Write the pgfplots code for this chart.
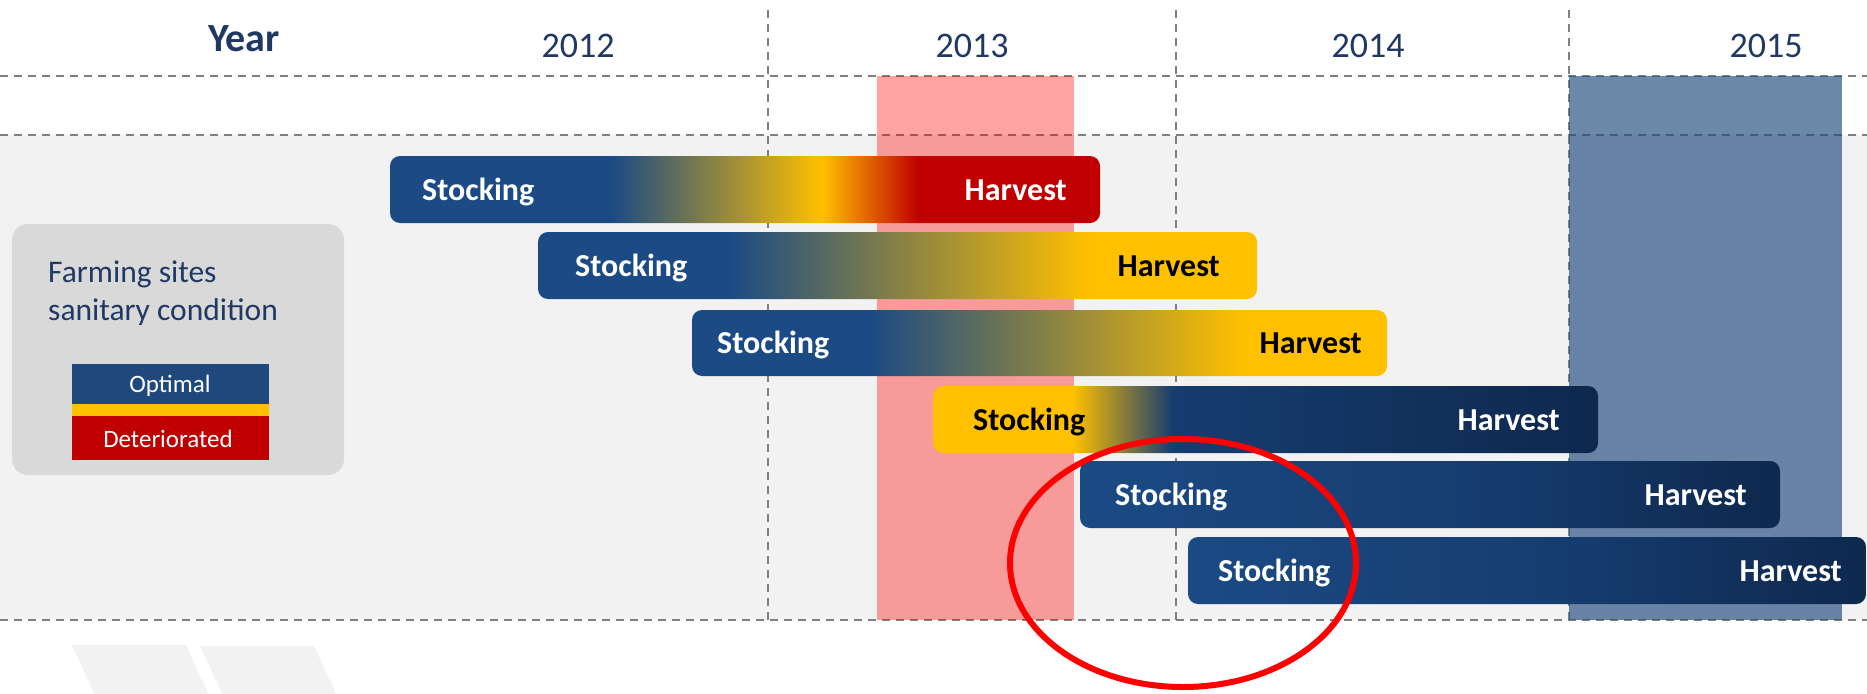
\documentclass[border=0pt]{standalone}
\usepackage{pgfplots}
\pgfplotsset{compat=1.18}
\usepackage{fontspec}
\setmainfont{Carlito}
\definecolor{cblue}{RGB}{27,74,132}
\definecolor{cmid}{RGB}{22,61,112}
\definecolor{cnavy}{RGB}{14,40,78}
\definecolor{cyellow}{RGB}{255,192,0}
\definecolor{cred}{RGB}{192,0,0}
\definecolor{ctitle}{RGB}{31,56,100}
\definecolor{cgrid}{RGB}{128,128,128}
\definecolor{cbg}{RGB}{242,242,242}
\definecolor{cbox}{RGB}{217,217,217}
\definecolor{clegblue}{RGB}{31,73,125}
\pgfdeclarehorizontalshading{barA}{100bp}{color(0bp)=(cblue); color(40.6bp)=(cblue); color(55.4bp)=(cyellow); color(62.2bp)=(cred); color(100bp)=(cred)}
\pgfdeclarehorizontalshading{barB}{100bp}{color(0bp)=(cblue); color(38.3bp)=(cblue); color(63.4bp)=(cyellow); color(100bp)=(cyellow)}
\pgfdeclarehorizontalshading{barC}{100bp}{color(0bp)=(cblue); color(37.8bp)=(cblue); color(64.7bp)=(cyellow); color(100bp)=(cyellow)}
\pgfdeclarehorizontalshading{barD}{100bp}{color(0bp)=(cyellow); color(35.5bp)=(cyellow); color(43bp)=(cmid); color(75bp)=(cnavy); color(100bp)=(cnavy)}
\pgfdeclarehorizontalshading{barE}{100bp}{color(0bp)=(cblue); color(25bp)=(cblue); color(53bp)=(cmid); color(75bp)=(cnavy); color(100bp)=(cnavy)}
\pgfdeclarehorizontalshading{barF}{100bp}{color(0bp)=(cblue); color(25bp)=(cblue); color(52bp)=(cmid); color(75bp)=(cnavy); color(100bp)=(cnavy)}
\newcommand{\barfont}{\bfseries\fontsize{32}{38}\selectfont}
\begin{document}
\begin{tikzpicture}
\begin{axis}[
  scale only axis, width=1867pt, height=693pt,
  xmin=0, xmax=1867, ymin=0, ymax=693, y dir=reverse,
  hide axis, clip=true,
]
% background band
\addplot[fill=cbg, draw=none] coordinates {(0,135) (1867,135) (1867,620) (0,620)} -- cycle;
% watermark shapes
\addplot[fill=cbg, draw=none] coordinates {(72,645) (186,645) (211,700) (97,700)} -- cycle;
\addplot[fill=cbg, draw=none] coordinates {(200,646) (314,646) (339,700) (225,700)} -- cycle;
% grid lines
\addplot[cgrid, line width=2pt, dash pattern=on 8pt off 6pt] coordinates {(0,76) (1867,76)};
\addplot[cgrid, line width=2pt, dash pattern=on 8pt off 6pt] coordinates {(0,135) (1867,135)};
\addplot[cgrid, line width=2pt, dash pattern=on 8pt off 6pt] coordinates {(0,620) (1867,620)};
\addplot[cgrid, line width=2pt, dash pattern=on 8pt off 6pt] coordinates {(768,10) (768,620)};
\addplot[cgrid, line width=2pt, dash pattern=on 8pt off 6pt] coordinates {(1176,10) (1176,620)};
\addplot[cgrid, line width=2pt, dash pattern=on 8pt off 6pt] coordinates {(1569,10) (1569,620)};
% highlighted periods
\addplot[fill=red, fill opacity=0.36, draw=none] coordinates {(877,76) (1074,76) (1074,620) (877,620)} -- cycle;
\addplot[fill=clegblue, fill opacity=0.65, draw=none] coordinates {(1569,76) (1842,76) (1842,620) (1569,620)} -- cycle;
% header
\node[anchor=base, text=ctitle, font=\bfseries\fontsize{40}{46}\selectfont, inner sep=0] at (axis cs:244,52) {Year};
\node[anchor=base, text=ctitle, font=\fontsize{36}{42}\selectfont, inner sep=0] at (axis cs:578,58) {2012};
\node[anchor=base, text=ctitle, font=\fontsize{36}{42}\selectfont, inner sep=0] at (axis cs:972,58) {2013};
\node[anchor=base, text=ctitle, font=\fontsize{36}{42}\selectfont, inner sep=0] at (axis cs:1368,58) {2014};
\node[anchor=base, text=ctitle, font=\fontsize{36}{42}\selectfont, inner sep=0] at (axis cs:1766,58) {2015};
% legend box
\addplot[fill=cbox, draw=none, rounded corners=16pt] coordinates {(12,224) (344,224) (344,475) (12,475)} -- cycle;
\node[anchor=base west, text=ctitle, font=\fontsize{31.5}{37}\selectfont, inner sep=0] at (axis cs:48,282) {Farming sites};
\node[anchor=base west, text=ctitle, font=\fontsize{31.5}{37}\selectfont, inner sep=0] at (axis cs:48,320) {sanitary condition};
\addplot[fill=clegblue, draw=none] coordinates {(72,364) (269,364) (269,404) (72,404)} -- cycle;
\addplot[fill=cyellow, draw=none] coordinates {(72,404) (269,404) (269,416) (72,416)} -- cycle;
\addplot[fill=cred, draw=none] coordinates {(72,416) (269,416) (269,460) (72,460)} -- cycle;
\node[anchor=base, text=white, font=\fontsize{25}{30}\selectfont, inner sep=0] at (axis cs:170,392) {Optimal};
\node[anchor=base, text=white, font=\fontsize{25}{30}\selectfont, inner sep=0] at (axis cs:168,447) {Deteriorated};
% bars
\addplot[shade, shading=barA, draw=none, rounded corners=10pt] coordinates {(390,156) (1100,156) (1100,223) (390,223)} -- cycle;
\addplot[shade, shading=barB, draw=none, rounded corners=10pt] coordinates {(538,232) (1257,232) (1257,299) (538,299)} -- cycle;
\addplot[shade, shading=barC, draw=none, rounded corners=10pt] coordinates {(692,310) (1387,310) (1387,376) (692,376)} -- cycle;
\addplot[shade, shading=barD, draw=none, rounded corners=10pt] coordinates {(933,386) (1598,386) (1598,453) (933,453)} -- cycle;
\addplot[shade, shading=barE, draw=none, rounded corners=10pt] coordinates {(1080,461) (1780,461) (1780,528) (1080,528)} -- cycle;
\addplot[shade, shading=barF, draw=none, rounded corners=10pt] coordinates {(1188,537) (1866,537) (1866,604) (1188,604)} -- cycle;
% bar labels
\node[anchor=base west, text=white, font=\barfont, inner sep=0] at (axis cs:422,200) {Stocking};
\node[anchor=base east, text=white, font=\barfont, inner sep=0] at (axis cs:1067,200) {Harvest};
\node[anchor=base west, text=white, font=\barfont, inner sep=0] at (axis cs:575,276) {Stocking};
\node[anchor=base east, text=black, font=\barfont, inner sep=0] at (axis cs:1220,276) {Harvest};
\node[anchor=base west, text=white, font=\barfont, inner sep=0] at (axis cs:717,353) {Stocking};
\node[anchor=base east, text=black, font=\barfont, inner sep=0] at (axis cs:1362,353) {Harvest};
\node[anchor=base west, text=black, font=\barfont, inner sep=0] at (axis cs:973,430) {Stocking};
\node[anchor=base east, text=white, font=\barfont, inner sep=0] at (axis cs:1560,430) {Harvest};
\node[anchor=base west, text=white, font=\barfont, inner sep=0] at (axis cs:1115,505) {Stocking};
\node[anchor=base east, text=white, font=\barfont, inner sep=0] at (axis cs:1747,505) {Harvest};
\node[anchor=base west, text=white, font=\barfont, inner sep=0] at (axis cs:1218,581) {Stocking};
\node[anchor=base east, text=white, font=\barfont, inner sep=0] at (axis cs:1842,581) {Harvest};
% highlight ellipse
\draw[red, line width=6pt] (axis cs:1183,563) ellipse [x radius=173, y radius=124];
\end{axis}
\pgfresetboundingbox
\path (current axis.south west) rectangle (current axis.north east);
\end{tikzpicture}
\end{document}
